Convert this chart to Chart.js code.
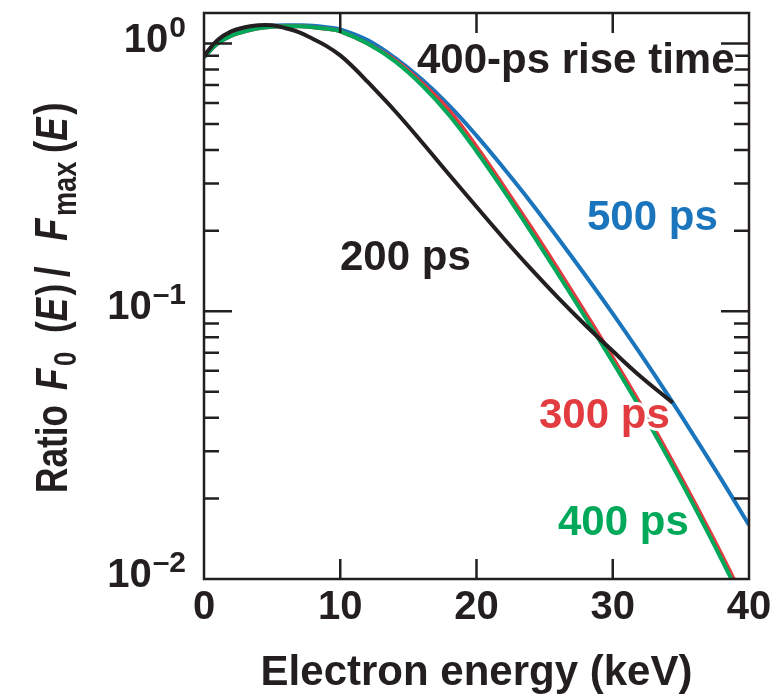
<!DOCTYPE html>
<html>
<head>
<meta charset="utf-8">
<script src="https://cdn.jsdelivr.net/npm/chart.js@4.4.1/dist/chart.umd.min.js"></script>
<style>
  html, body { margin: 0; padding: 0; background: #fff; }
  canvas { display: block; }
</style>
</head>
<body>
<canvas id="ratio_canvas" width="784" height="694"></canvas>
<script>
// Werte
const energy = [0, 1, 2, 3, 4, 5, 6, 7, 8, 9, 10, 12, 14, 16, 18, 20, 22, 24, 26, 28, 30, 32, 34, 36, 38, 40];
const ratio500 = [0.89, 1.0, 1.07, 1.12, 1.15, 1.165, 1.17, 1.17, 1.165, 1.15, 1.13, 1.03, 0.885, 0.733, 0.586, 0.453, 0.342, 0.255, 0.187, 0.136, 0.098, 0.0697, 0.049, 0.034, 0.0234, 0.0159];
const ratio400 = [0.89, 1.0, 1.07, 1.11, 1.14, 1.155, 1.16, 1.16, 1.15, 1.135, 1.11, 1.0, 0.859, 0.698, 0.540, 0.396, 0.282, 0.198, 0.1374, 0.0946, 0.0646, 0.0435, 0.0287, 0.0186, 0.0118, 0.00736];
const ratio300 = [0.89, 1.0, 1.07, 1.11, 1.14, 1.155, 1.16, 1.16, 1.15, 1.135, 1.11, 1.0, 0.868, 0.712, 0.562, 0.412, 0.293, 0.206, 0.143, 0.0984, 0.0672, 0.0452, 0.0298, 0.0193, 0.0123, 0.00765];
const energy200 = [0, 1, 2, 3, 4, 5, 6, 7, 8, 9, 10, 11, 12, 14, 16, 18, 20, 22, 24, 26, 28, 30, 32, 34.4];
const ratio200 = [0.90, 1.03, 1.11, 1.15, 1.17, 1.17, 1.14, 1.10, 1.04, 0.978, 0.903, 0.812, 0.72, 0.561, 0.428, 0.3236, 0.2455, 0.187, 0.1439, 0.1122, 0.0887, 0.071, 0.0573, 0.0455];

const xTicks = [0, 10, 20, 30, 40];
const yDecades = [0.01, 0.1, 1];
const yDecadeExp = ['\u20132', '\u20131', '0'];

const FONT = '"Liberation Sans", Arial, Helvetica, sans-serif';
const BLACK = '#231f20';
const BLUE = '#1a75bc';
const RED = '#e23b40';
const GREEN = '#00a85a';

const toPoints = (xs, ys) => xs.map((e, i) => ({x: e, y: ys[i]}));

// Rahmen, Ticks nach innen, y-Beschriftung und Kurvenbeschriftungen
const decorations = {
    id: 'decorations',
    afterDatasetsDraw(chart) {
        const {ctx, chartArea: a, scales: {x, y}} = chart;
        ctx.save();
        ctx.strokeStyle = BLACK;
        ctx.lineWidth = 2.5;
        ctx.strokeRect(a.left, a.top, a.right - a.left, a.bottom - a.top);

        ctx.beginPath();
        xTicks.slice(1, -1).forEach(v => {
            const px = x.getPixelForValue(v);
            ctx.moveTo(px, a.bottom); ctx.lineTo(px, a.bottom - 20);
            ctx.moveTo(px, a.top); ctx.lineTo(px, a.top + 20);
        });
        yDecades.forEach(d => {
            for (let k = 1; k <= 9; k++) {
                const v = k * d;
                if (v <= y.min || v > y.max) continue;
                const py = y.getPixelForValue(v);
                const len = k === 1 ? 28 : 15;
                ctx.moveTo(a.left, py); ctx.lineTo(a.left + len, py);
                ctx.moveTo(a.right, py); ctx.lineTo(a.right - len, py);
            }
        });
        ctx.stroke();

        // y-Achse: 10^n
        ctx.fillStyle = BLACK;
        ctx.textBaseline = 'alphabetic';
        ctx.textAlign = 'right';
        yDecades.forEach((d, i) => {
            const py = y.getPixelForValue(d);
            const right = a.left - 18;
            ctx.font = 'bold 30px ' + FONT;
            const w = ctx.measureText(yDecadeExp[i]).width;
            ctx.fillText(yDecadeExp[i], right, py - 7);
            ctx.font = 'bold 40px ' + FONT;
            ctx.fillText('10', right - w - 1, py + 8);
        });

        // y-Achsentitel (gedreht)
        ctx.save();
        ctx.translate(0, 493);
        ctx.rotate(-Math.PI / 2);
        const sx = 0.8;
        ctx.scale(sx, 1);
        ctx.textAlign = 'left';
        const groups = [
            {d: 0, parts: [['Ratio', 'bold 44px', 0]]},
            {d: 103, parts: [['F', 'italic bold 44px', 0], ['0', 'bold 32px', 9]]},
            {d: 160, parts: [['(', 'bold 44px', 0], ['E', 'italic bold 44px', 0], [')', 'bold 44px', 0]]},
            {d: 216, parts: [['/', 'bold 48px', 2]]},
            {d: 252, parts: [['F', 'italic bold 46px', 0], ['max', 'bold 34px', 9]]},
            {d: 340, parts: [['(', 'bold 46px', 0], ['E', 'italic bold 44px', 0], [')', 'bold 46px', 0]]}
        ];
        groups.forEach(g => {
            let cx = g.d / sx;
            g.parts.forEach(([t, f, dy]) => {
                ctx.font = f + ' ' + FONT;
                ctx.fillText(t, cx, 67 + dy);
                cx += ctx.measureText(t).width + (f.startsWith('italic') ? 3 : 0);
            });
        });
        ctx.restore();

        // Kurvenbeschriftungen
        const labels = [
            ['400-ps rise time', BLACK, 417, 73],
            ['500 ps', BLUE, 587, 230],
            ['200 ps', BLACK, 340, 270],
            ['300 ps', RED, 539, 428],
            ['400 ps', GREEN, 558, 535]
        ];
        ctx.textAlign = 'left';
        ctx.font = 'bold 42px ' + FONT;
        ctx.lineJoin = 'round';
        labels.forEach(([t, c, lx, ly]) => {
            ctx.lineWidth = 6;
            ctx.strokeStyle = '#fff';
            ctx.strokeText(t, lx, ly);
            ctx.fillStyle = c;
            ctx.fillText(t, lx, ly);
        });
        ctx.restore();
    }
};

const ctx = document.getElementById('ratio_canvas');

const data = {
    datasets: [
        {label: '200 ps', data: toPoints(energy200, ratio200), borderColor: BLACK},
        {label: '400 ps', data: toPoints(energy, ratio400), borderColor: GREEN},
        {label: '300 ps', data: toPoints(energy, ratio300), borderColor: RED},
        {label: '500 ps', data: toPoints(energy, ratio500), borderColor: BLUE}
    ].map(ds => Object.assign(ds, {
        borderWidth: 4,
        pointRadius: 0,
        fill: false,
        tension: 0.4
    }))
};

const ratioChart = new Chart(ctx, {
    type: 'line',
    data: data,
    options: {
        responsive: false,
        animation: false,
        devicePixelRatio: 1,
        layout: {
            padding: {left: 204, top: 13, right: 35, bottom: 0}
        },
        plugins: {
            legend: {display: false},
            tooltip: {enabled: false}
        },
        scales: {
            x: {
                type: 'linear',
                min: 0,
                max: 40,
                afterBuildTicks: scale => { scale.ticks = xTicks.map(v => ({value: v})); },
                ticks: {
                    color: BLACK,
                    font: {family: FONT, size: 40, weight: 'bold'},
                    padding: -3,
                    maxRotation: 0
                },
                grid: {display: false},
                border: {display: false},
                title: {
                    display: true,
                    text: 'Electron energy (keV)',
                    color: BLACK,
                    font: {family: FONT, size: 42, weight: 'bold', lineHeight: 1},
                    padding: {top: 23, bottom: 0}
                }
            },
            y: {
                type: 'logarithmic',
                min: 0.01,
                max: 1.3,
                display: false
            }
        }
    },
    plugins: [decorations]
});
</script>
</body>
</html>
